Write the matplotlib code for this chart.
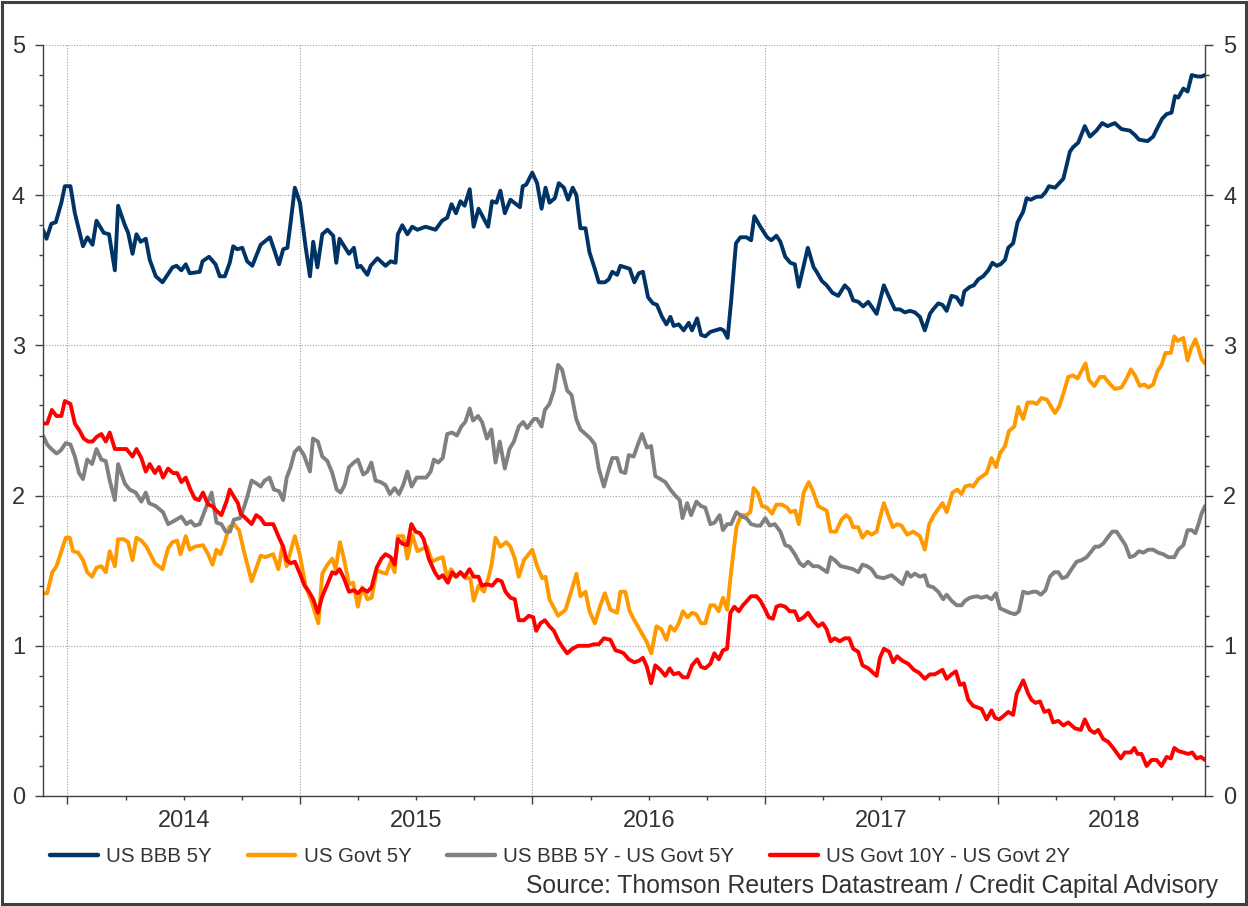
import matplotlib
matplotlib.use("Agg")
import matplotlib.pyplot as plt
from matplotlib.ticker import FixedLocator, FuncFormatter, MultipleLocator
from matplotlib.patches import Rectangle

# time axis in decimal years, values in %
bbb_t = [2013.895, 2013.910, 2013.931, 2013.950, 2013.974, 2013.989, 2014.013, 2014.032, 2014.067, 2014.086,
         2014.108, 2014.125, 2014.156, 2014.179, 2014.204, 2014.218, 2014.247, 2014.261, 2014.280, 2014.297,
         2014.315, 2014.337, 2014.354, 2014.380, 2014.409, 2014.452, 2014.469, 2014.490, 2014.509, 2014.526,
         2014.569, 2014.581, 2014.609, 2014.637, 2014.655, 2014.677, 2014.698, 2014.713, 2014.730, 2014.752,
         2014.773, 2014.795, 2014.831, 2014.871, 2014.910, 2014.928, 2014.946, 2014.960, 2014.978, 2015.000,
         2015.024, 2015.043, 2015.057, 2015.075, 2015.096, 2015.118, 2015.143, 2015.156, 2015.170, 2015.211,
         2015.232, 2015.247, 2015.261, 2015.290, 2015.304, 2015.333, 2015.368, 2015.390, 2015.411, 2015.421,
         2015.440, 2015.462, 2015.483, 2015.505, 2015.540, 2015.583, 2015.611, 2015.633, 2015.652, 2015.671,
         2015.690, 2015.708, 2015.730, 2015.747, 2015.768, 2015.809, 2015.826, 2015.845, 2015.862, 2015.881,
         2015.905, 2015.946, 2015.958, 2015.973, 2015.999, 2016.020, 2016.039, 2016.056, 2016.073, 2016.096,
         2016.113, 2016.135, 2016.153, 2016.173, 2016.189, 2016.206, 2016.228, 2016.245, 2016.268, 2016.285,
         2016.311, 2016.328, 2016.343, 2016.364, 2016.378, 2016.418, 2016.438, 2016.457, 2016.475, 2016.497,
         2016.518, 2016.535, 2016.557, 2016.576, 2016.593, 2016.607, 2016.629, 2016.650, 2016.672, 2016.686,
         2016.708, 2016.725, 2016.743, 2016.765, 2016.808, 2016.822, 2016.839, 2016.854, 2016.875, 2016.894,
         2016.920, 2016.940, 2016.954, 2016.980, 2017.009, 2017.027, 2017.049, 2017.066, 2017.087, 2017.109,
         2017.128, 2017.145, 2017.184, 2017.209, 2017.222, 2017.244, 2017.265, 2017.290, 2017.315, 2017.343,
         2017.362, 2017.379, 2017.401, 2017.422, 2017.444, 2017.480, 2017.511, 2017.537, 2017.558, 2017.580,
         2017.601, 2017.623, 2017.644, 2017.666, 2017.687, 2017.709, 2017.723, 2017.745, 2017.763, 2017.781,
         2017.802, 2017.824, 2017.845, 2017.857, 2017.881, 2017.898, 2017.917, 2017.938, 2017.960, 2017.978,
         2017.996, 2018.013, 2018.032, 2018.046, 2018.067, 2018.086, 2018.110, 2018.125, 2018.143, 2018.168,
         2018.189, 2018.206, 2018.221, 2018.247, 2018.283, 2018.311, 2018.325, 2018.347, 2018.375, 2018.397,
         2018.425, 2018.450, 2018.473, 2018.504, 2018.533, 2018.569, 2018.591, 2018.608, 2018.645, 2018.669,
         2018.688, 2018.708, 2018.727, 2018.748, 2018.763, 2018.777, 2018.799, 2018.817, 2018.835, 2018.860,
         2018.877, 2018.892]
bbb_v = [3.77, 3.71, 3.81, 3.82, 3.95, 4.06, 4.06, 3.88, 3.66, 3.72,
         3.67, 3.83, 3.75, 3.74, 3.50, 3.93, 3.80, 3.75, 3.61, 3.74,
         3.69, 3.71, 3.57, 3.46, 3.42, 3.52, 3.53, 3.50, 3.54, 3.48,
         3.49, 3.56, 3.59, 3.54, 3.46, 3.46, 3.55, 3.66, 3.64, 3.65,
         3.56, 3.53, 3.67, 3.72, 3.54, 3.64, 3.65, 3.82, 4.05, 3.95,
         3.66, 3.46, 3.69, 3.52, 3.74, 3.77, 3.73, 3.55, 3.71, 3.61,
         3.65, 3.52, 3.53, 3.47, 3.53, 3.58, 3.53, 3.56, 3.55, 3.74,
         3.80, 3.74, 3.79, 3.77, 3.79, 3.77, 3.83, 3.85, 3.94, 3.88,
         3.96, 3.93, 4.04, 3.79, 3.91, 3.79, 3.96, 3.95, 4.03, 3.88,
         3.97, 3.92, 4.06, 4.07, 4.15, 4.08, 3.91, 4.05, 3.95, 3.98,
         4.08, 4.05, 3.97, 4.05, 4.00, 3.78, 3.78, 3.62, 3.51, 3.42,
         3.42, 3.44, 3.49, 3.47, 3.53, 3.51, 3.42, 3.48, 3.49, 3.32,
         3.28, 3.27, 3.19, 3.14, 3.19, 3.13, 3.14, 3.10, 3.15, 3.10,
         3.18, 3.07, 3.06, 3.09, 3.11, 3.10, 3.05, 3.29, 3.68, 3.72,
         3.72, 3.70, 3.86, 3.79, 3.72, 3.70, 3.73, 3.69, 3.59, 3.55,
         3.54, 3.39, 3.65, 3.52, 3.49, 3.43, 3.40, 3.35, 3.33, 3.40,
         3.37, 3.30, 3.29, 3.26, 3.29, 3.21, 3.40, 3.31, 3.24, 3.24,
         3.22, 3.23, 3.22, 3.19, 3.10, 3.21, 3.24, 3.28, 3.27, 3.23,
         3.33, 3.32, 3.27, 3.36, 3.39, 3.40, 3.44, 3.46, 3.50, 3.55,
         3.53, 3.54, 3.57, 3.65, 3.68, 3.82, 3.89, 3.98, 3.97, 3.99,
         3.99, 4.02, 4.06, 4.05, 4.11, 4.29, 4.32, 4.35, 4.46, 4.39,
         4.43, 4.48, 4.46, 4.48, 4.44, 4.43, 4.40, 4.37, 4.36, 4.39,
         4.45, 4.51, 4.54, 4.55, 4.66, 4.65, 4.71, 4.69, 4.80, 4.79,
         4.79, 4.80]

govt_t = [2013.895, 2013.913, 2013.935, 2013.953, 2013.974, 2013.993, 2014.010, 2014.024, 2014.046, 2014.067,
          2014.085, 2014.106, 2014.125, 2014.146, 2014.165, 2014.182, 2014.204, 2014.218, 2014.242, 2014.261,
          2014.280, 2014.297, 2014.318, 2014.340, 2014.376, 2014.409, 2014.433, 2014.452, 2014.472, 2014.486,
          2014.509, 2014.526, 2014.548, 2014.583, 2014.605, 2014.624, 2014.641, 2014.658, 2014.677, 2014.695,
          2014.716, 2014.738, 2014.759, 2014.792, 2014.831, 2014.852, 2014.885, 2014.907, 2014.924, 2014.943,
          2014.960, 2014.978, 2015.000, 2015.024, 2015.049, 2015.063, 2015.079, 2015.096, 2015.118, 2015.139,
          2015.153, 2015.172, 2015.189, 2015.211, 2015.229, 2015.249, 2015.268, 2015.290, 2015.308, 2015.330,
          2015.350, 2015.371, 2015.390, 2015.407, 2015.421, 2015.444, 2015.462, 2015.483, 2015.505, 2015.547,
          2015.568, 2015.594, 2015.614, 2015.633, 2015.650, 2015.667, 2015.690, 2015.711, 2015.733, 2015.747,
          2015.768, 2015.791, 2015.812, 2015.824, 2015.841, 2015.862, 2015.887, 2015.905, 2015.924, 2015.941,
          2015.963, 2015.999, 2016.020, 2016.042, 2016.056, 2016.073, 2016.110, 2016.142, 2016.170, 2016.189,
          2016.206, 2016.228, 2016.245, 2016.268, 2016.292, 2016.311, 2016.335, 2016.364, 2016.378, 2016.399,
          2016.418, 2016.438, 2016.464, 2016.490, 2016.511, 2016.533, 2016.554, 2016.576, 2016.593, 2016.611,
          2016.629, 2016.647, 2016.667, 2016.686, 2016.704, 2016.725, 2016.743, 2016.765, 2016.782, 2016.801,
          2016.819, 2016.837, 2016.854, 2016.877, 2016.897, 2016.920, 2016.937, 2016.951, 2016.968, 2016.987,
          2017.009, 2017.030, 2017.049, 2017.073, 2017.095, 2017.109, 2017.130, 2017.145, 2017.166, 2017.188,
          2017.206, 2017.229, 2017.265, 2017.282, 2017.305, 2017.329, 2017.348, 2017.364, 2017.379, 2017.401,
          2017.419, 2017.439, 2017.458, 2017.480, 2017.494, 2017.511, 2017.530, 2017.549, 2017.568, 2017.587,
          2017.611, 2017.637, 2017.666, 2017.687, 2017.706, 2017.726, 2017.749, 2017.763, 2017.781, 2017.806,
          2017.827, 2017.845, 2017.860, 2017.881, 2017.895, 2017.917, 2017.935, 2017.953, 2017.974, 2017.993,
          2018.010, 2018.032, 2018.049, 2018.072, 2018.089, 2018.110, 2018.129, 2018.153, 2018.168, 2018.189,
          2018.211, 2018.247, 2018.264, 2018.283, 2018.304, 2018.325, 2018.344, 2018.378, 2018.393, 2018.416,
          2018.440, 2018.459, 2018.479, 2018.504, 2018.533, 2018.555, 2018.573, 2018.591, 2018.612, 2018.631,
          2018.648, 2018.669, 2018.688, 2018.705, 2018.722, 2018.745, 2018.760, 2018.774, 2018.799, 2018.817,
          2018.832, 2018.851, 2018.866, 2018.877, 2018.892]
govt_v = [1.35, 1.35, 1.49, 1.53, 1.63, 1.72, 1.72, 1.63, 1.62, 1.57,
          1.49, 1.46, 1.52, 1.53, 1.49, 1.63, 1.53, 1.71, 1.71, 1.69,
          1.57, 1.72, 1.70, 1.66, 1.55, 1.51, 1.65, 1.69, 1.70, 1.61,
          1.73, 1.64, 1.66, 1.67, 1.61, 1.54, 1.64, 1.61, 1.69, 1.79,
          1.81, 1.77, 1.63, 1.43, 1.60, 1.59, 1.61, 1.51, 1.66, 1.53,
          1.63, 1.73, 1.60, 1.40, 1.30, 1.23, 1.15, 1.48, 1.54, 1.58,
          1.51, 1.69, 1.58, 1.41, 1.42, 1.26, 1.39, 1.31, 1.32, 1.50,
          1.49, 1.48, 1.56, 1.49, 1.73, 1.73, 1.58, 1.74, 1.63, 1.66,
          1.56, 1.58, 1.59, 1.45, 1.51, 1.46, 1.49, 1.45, 1.45, 1.30,
          1.40, 1.36, 1.46, 1.54, 1.72, 1.66, 1.69, 1.66, 1.58, 1.46,
          1.57, 1.64, 1.53, 1.45, 1.46, 1.31, 1.20, 1.24, 1.38, 1.48,
          1.33, 1.36, 1.23, 1.15, 1.27, 1.35, 1.24, 1.22, 1.36, 1.36,
          1.23, 1.17, 1.10, 1.03, 0.95, 1.13, 1.11, 1.04, 1.13, 1.10,
          1.15, 1.23, 1.19, 1.22, 1.21, 1.15, 1.15, 1.27, 1.27, 1.23,
          1.32, 1.24, 1.49, 1.79, 1.87, 1.87, 1.89, 2.05, 2.02, 1.93,
          1.92, 1.88, 1.94, 1.94, 1.92, 1.89, 1.90, 1.81, 2.02, 2.09,
          2.03, 1.93, 1.90, 1.76, 1.76, 1.84, 1.87, 1.85, 1.79, 1.79,
          1.72, 1.76, 1.74, 1.76, 1.85, 1.95, 1.87, 1.79, 1.81, 1.80,
          1.74, 1.76, 1.73, 1.64, 1.81, 1.87, 1.92, 1.95, 1.89, 2.02,
          2.04, 2.01, 2.06, 2.07, 2.06, 2.11, 2.13, 2.15, 2.25, 2.19,
          2.28, 2.33, 2.43, 2.46, 2.59, 2.51, 2.62, 2.62, 2.61, 2.65,
          2.64, 2.55, 2.59, 2.68, 2.79, 2.80, 2.78, 2.88, 2.77, 2.73,
          2.79, 2.79, 2.75, 2.71, 2.72, 2.78, 2.84, 2.80, 2.73, 2.74,
          2.72, 2.74, 2.83, 2.87, 2.95, 2.95, 3.06, 3.03, 3.05, 2.90,
          2.98, 3.04, 2.97, 2.91, 2.88]

spread_t = [2013.895, 2013.913, 2013.931, 2013.953, 2013.971, 2013.993, 2014.013, 2014.032, 2014.050, 2014.067,
            2014.085, 2014.106, 2014.125, 2014.146, 2014.165, 2014.182, 2014.204, 2014.218, 2014.247, 2014.268,
            2014.294, 2014.318, 2014.337, 2014.351, 2014.380, 2014.411, 2014.433, 2014.457, 2014.490, 2014.512,
            2014.530, 2014.548, 2014.569, 2014.598, 2014.620, 2014.641, 2014.662, 2014.681, 2014.699, 2014.716,
            2014.742, 2014.759, 2014.773, 2014.792, 2014.814, 2014.831, 2014.848, 2014.869, 2014.888, 2014.910,
            2014.928, 2014.943, 2014.960, 2014.977, 2014.996, 2015.017, 2015.043, 2015.056, 2015.077, 2015.096,
            2015.118, 2015.139, 2015.158, 2015.175, 2015.192, 2015.211, 2015.232, 2015.249, 2015.272, 2015.290,
            2015.307, 2015.325, 2015.347, 2015.368, 2015.387, 2015.407, 2015.426, 2015.444, 2015.462, 2015.480,
            2015.502, 2015.543, 2015.562, 2015.576, 2015.594, 2015.614, 2015.633, 2015.654, 2015.675, 2015.694,
            2015.711, 2015.730, 2015.744, 2015.766, 2015.783, 2015.804, 2015.823, 2015.841, 2015.859, 2015.881,
            2015.901, 2015.920, 2015.941, 2015.960, 2015.977, 2016.006, 2016.020, 2016.039, 2016.053, 2016.073,
            2016.092, 2016.110, 2016.127, 2016.149, 2016.168, 2016.188, 2016.206, 2016.228, 2016.249, 2016.268,
            2016.285, 2016.307, 2016.325, 2016.343, 2016.364, 2016.380, 2016.399, 2016.414, 2016.435, 2016.453,
            2016.471, 2016.492, 2016.510, 2016.528, 2016.550, 2016.571, 2016.593, 2016.614, 2016.633, 2016.645,
            2016.665, 2016.682, 2016.705, 2016.725, 2016.743, 2016.765, 2016.783, 2016.805, 2016.819, 2016.837,
            2016.854, 2016.877, 2016.901, 2016.920, 2016.940, 2016.963, 2016.980, 2017.001, 2017.020, 2017.042,
            2017.066, 2017.087, 2017.106, 2017.128, 2017.149, 2017.166, 2017.185, 2017.206, 2017.229, 2017.248,
            2017.267, 2017.282, 2017.300, 2017.325, 2017.356, 2017.379, 2017.401, 2017.419, 2017.439, 2017.458,
            2017.480, 2017.509, 2017.544, 2017.568, 2017.591, 2017.611, 2017.626, 2017.644, 2017.666, 2017.687,
            2017.701, 2017.723, 2017.745, 2017.766, 2017.781, 2017.802, 2017.824, 2017.845, 2017.860, 2017.881,
            2017.910, 2017.931, 2017.953, 2017.974, 2017.993, 2018.010, 2018.039, 2018.053, 2018.075, 2018.092,
            2018.110, 2018.129, 2018.153, 2018.168, 2018.186, 2018.206, 2018.225, 2018.244, 2018.261, 2018.278,
            2018.297, 2018.318, 2018.340, 2018.361, 2018.383, 2018.404, 2018.419, 2018.436, 2018.454, 2018.473,
            2018.493, 2018.512, 2018.533, 2018.550, 2018.569, 2018.588, 2018.608, 2018.627, 2018.648, 2018.669,
            2018.691, 2018.712, 2018.734, 2018.760, 2018.777, 2018.799, 2018.817, 2018.835, 2018.851, 2018.866,
            2018.877, 2018.892]
spread_v = [2.40, 2.34, 2.31, 2.28, 2.30, 2.35, 2.34, 2.26, 2.15, 2.11,
            2.24, 2.21, 2.31, 2.24, 2.23, 2.10, 1.97, 2.21, 2.08, 2.04,
            2.02, 1.96, 2.02, 1.95, 1.93, 1.89, 1.81, 1.83, 1.86, 1.81,
            1.83, 1.80, 1.81, 1.93, 2.02, 1.82, 1.81, 1.76, 1.76, 1.84,
            1.85, 1.92, 1.99, 2.10, 2.08, 2.06, 2.10, 2.12, 2.04, 2.03,
            1.97, 2.12, 2.19, 2.29, 2.32, 2.27, 2.16, 2.38, 2.36, 2.26,
            2.23, 2.15, 2.04, 2.02, 2.07, 2.19, 2.22, 2.24, 2.14, 2.16,
            2.22, 2.10, 2.09, 2.07, 2.01, 2.05, 2.01, 2.07, 2.16, 2.06,
            2.12, 2.12, 2.16, 2.24, 2.22, 2.25, 2.41, 2.42, 2.40, 2.46,
            2.49, 2.58, 2.50, 2.53, 2.49, 2.38, 2.44, 2.22, 2.36, 2.18,
            2.31, 2.36, 2.46, 2.49, 2.45, 2.51, 2.51, 2.46, 2.57, 2.61,
            2.70, 2.87, 2.84, 2.70, 2.67, 2.51, 2.44, 2.41, 2.38, 2.34,
            2.18, 2.06, 2.16, 2.25, 2.25, 2.16, 2.15, 2.27, 2.26, 2.34,
            2.41, 2.32, 2.33, 2.13, 2.11, 2.09, 2.04, 2.00, 1.97, 1.85,
            1.95, 1.87, 1.96, 1.93, 1.92, 1.81, 1.82, 1.87, 1.77, 1.81,
            1.81, 1.89, 1.86, 1.85, 1.81, 1.80, 1.80, 1.85, 1.80, 1.81,
            1.76, 1.67, 1.66, 1.61, 1.55, 1.53, 1.56, 1.53, 1.53, 1.51,
            1.49, 1.59, 1.57, 1.53, 1.52, 1.51, 1.49, 1.54, 1.53, 1.51,
            1.46, 1.45, 1.47, 1.44, 1.41, 1.49, 1.46, 1.48, 1.46, 1.47,
            1.40, 1.39, 1.36, 1.31, 1.34, 1.30, 1.27, 1.27, 1.30, 1.32,
            1.33, 1.32, 1.33, 1.31, 1.35, 1.25, 1.23, 1.22, 1.21, 1.23,
            1.36, 1.35, 1.36, 1.36, 1.34, 1.37, 1.46, 1.49, 1.49, 1.45,
            1.46, 1.51, 1.56, 1.57, 1.59, 1.63, 1.66, 1.66, 1.68, 1.72,
            1.76, 1.76, 1.71, 1.67, 1.59, 1.60, 1.63, 1.62, 1.64, 1.64,
            1.62, 1.61, 1.59, 1.59, 1.64, 1.67, 1.77, 1.77, 1.75, 1.82,
            1.88, 1.93]

curve_t = [2013.895, 2013.913, 2013.933, 2013.953, 2013.974, 2013.989, 2014.013, 2014.032, 2014.053, 2014.070,
           2014.089, 2014.108, 2014.125, 2014.146, 2014.165, 2014.182, 2014.204, 2014.225, 2014.254, 2014.280,
           2014.297, 2014.318, 2014.337, 2014.354, 2014.376, 2014.394, 2014.411, 2014.433, 2014.454, 2014.472,
           2014.490, 2014.509, 2014.529, 2014.548, 2014.566, 2014.583, 2014.605, 2014.624, 2014.641, 2014.662,
           2014.684, 2014.698, 2014.713, 2014.733, 2014.745, 2014.766, 2014.792, 2014.812, 2014.831, 2014.848,
           2014.885, 2014.910, 2014.928, 2014.943, 2014.960, 2014.978, 2015.000, 2015.020, 2015.039, 2015.057,
           2015.077, 2015.096, 2015.118, 2015.139, 2015.153, 2015.170, 2015.189, 2015.211, 2015.232, 2015.249,
           2015.268, 2015.290, 2015.308, 2015.330, 2015.350, 2015.368, 2015.390, 2015.407, 2015.421, 2015.440,
           2015.462, 2015.479, 2015.497, 2015.516, 2015.532, 2015.554, 2015.580, 2015.597, 2015.614, 2015.636,
           2015.655, 2015.672, 2015.690, 2015.708, 2015.729, 2015.747, 2015.768, 2015.782, 2015.804, 2015.827,
           2015.848, 2015.867, 2015.884, 2015.905, 2015.924, 2015.941, 2015.963, 2015.984, 2016.003, 2016.016,
           2016.034, 2016.053, 2016.073, 2016.092, 2016.113, 2016.130, 2016.149, 2016.171, 2016.196, 2016.221,
           2016.242, 2016.264, 2016.285, 2016.307, 2016.335, 2016.357, 2016.378, 2016.392, 2016.414, 2016.438,
           2016.457, 2016.475, 2016.492, 2016.510, 2016.528, 2016.550, 2016.571, 2016.590, 2016.607, 2016.629,
           2016.647, 2016.667, 2016.686, 2016.708, 2016.725, 2016.743, 2016.765, 2016.782, 2016.801, 2016.819,
           2016.837, 2016.851, 2016.868, 2016.887, 2016.905, 2016.923, 2016.940, 2016.963, 2016.980, 2017.001,
           2017.016, 2017.034, 2017.049, 2017.066, 2017.087, 2017.106, 2017.128, 2017.145, 2017.166, 2017.185,
           2017.206, 2017.229, 2017.248, 2017.265, 2017.282, 2017.300, 2017.321, 2017.343, 2017.362, 2017.379,
           2017.401, 2017.419, 2017.444, 2017.465, 2017.480, 2017.494, 2017.511, 2017.534, 2017.551, 2017.568,
           2017.591, 2017.616, 2017.640, 2017.663, 2017.687, 2017.709, 2017.730, 2017.763, 2017.781, 2017.802,
           2017.821, 2017.838, 2017.855, 2017.874, 2017.895, 2017.931, 2017.953, 2017.974, 2017.989, 2018.007,
           2018.024, 2018.046, 2018.067, 2018.082, 2018.110, 2018.132, 2018.146, 2018.163, 2018.182, 2018.201,
           2018.221, 2018.239, 2018.261, 2018.283, 2018.304, 2018.333, 2018.358, 2018.375, 2018.397, 2018.416,
           2018.433, 2018.454, 2018.476, 2018.497, 2018.530, 2018.547, 2018.573, 2018.588, 2018.602, 2018.619,
           2018.641, 2018.662, 2018.684, 2018.705, 2018.727, 2018.745, 2018.760, 2018.777, 2018.799, 2018.820,
           2018.837, 2018.856, 2018.874, 2018.892]
curve_v = [2.48, 2.48, 2.57, 2.53, 2.53, 2.63, 2.61, 2.48, 2.43, 2.38,
           2.36, 2.36, 2.39, 2.41, 2.36, 2.42, 2.31, 2.31, 2.31, 2.26,
           2.31, 2.25, 2.16, 2.21, 2.15, 2.19, 2.12, 2.18, 2.15, 2.15,
           2.09, 2.12, 2.04, 1.98, 1.97, 2.02, 1.94, 1.93, 1.90, 1.87,
           1.96, 2.04, 2.00, 1.95, 1.88, 1.85, 1.81, 1.87, 1.85, 1.81,
           1.81, 1.72, 1.66, 1.57, 1.55, 1.56, 1.48, 1.40, 1.36, 1.31,
           1.22, 1.33, 1.41, 1.49, 1.48, 1.51, 1.45, 1.36, 1.37, 1.35,
           1.38, 1.36, 1.39, 1.52, 1.58, 1.61, 1.59, 1.54, 1.71, 1.68,
           1.67, 1.81, 1.76, 1.75, 1.71, 1.58, 1.49, 1.45, 1.47, 1.42,
           1.49, 1.46, 1.49, 1.46, 1.51, 1.46, 1.46, 1.40, 1.41, 1.40,
           1.44, 1.43, 1.36, 1.32, 1.31, 1.17, 1.17, 1.20, 1.19, 1.10,
           1.15, 1.17, 1.13, 1.10, 1.03, 0.99, 0.95, 0.98, 1.00, 1.00,
           1.00, 1.01, 1.01, 1.05, 1.04, 0.97, 0.96, 0.95, 0.91, 0.89,
           0.90, 0.92, 0.86, 0.75, 0.87, 0.84, 0.80, 0.85, 0.81, 0.82,
           0.79, 0.79, 0.87, 0.91, 0.86, 0.85, 0.88, 0.95, 0.91, 0.97,
           0.98, 1.22, 1.26, 1.23, 1.27, 1.30, 1.33, 1.33, 1.30, 1.24,
           1.19, 1.18, 1.26, 1.27, 1.26, 1.23, 1.23, 1.17, 1.19, 1.22,
           1.17, 1.13, 1.15, 1.11, 1.03, 1.05, 1.03, 1.05, 1.05, 0.98,
           0.96, 0.87, 0.85, 0.82, 0.80, 0.92, 0.98, 0.96, 0.89, 0.93,
           0.90, 0.88, 0.84, 0.82, 0.78, 0.81, 0.81, 0.84, 0.78, 0.81,
           0.83, 0.74, 0.75, 0.64, 0.60, 0.58, 0.51, 0.57, 0.52, 0.51,
           0.53, 0.56, 0.54, 0.68, 0.77, 0.68, 0.64, 0.62, 0.63, 0.56,
           0.57, 0.49, 0.50, 0.47, 0.49, 0.45, 0.44, 0.51, 0.44, 0.42,
           0.44, 0.38, 0.36, 0.32, 0.25, 0.29, 0.29, 0.32, 0.28, 0.28,
           0.20, 0.24, 0.24, 0.20, 0.26, 0.25, 0.32, 0.30, 0.29, 0.28,
           0.29, 0.25, 0.26, 0.24]

series_labels = ["US BBB 5Y", "US Govt 5Y", "US BBB 5Y - US Govt 5Y", "US Govt 10Y - US Govt 2Y"]
series_colors = ["#003366", "#FF9900", "#808080", "#FF0000"]
years = [2014, 2015, 2016, 2017, 2018]
source = "Source: Thomson Reuters Datastream / Credit Capital Advisory"

plt.rcParams['font.family'] = ['Liberation Sans', 'DejaVu Sans']
txt = '#333333'
axc = '#404040'

fig = plt.figure(figsize=(12.48, 9.06), dpi=100)
ax = fig.add_axes([43 / 1248, 1 - 796 / 906, 1162 / 1248, 751 / 906])

data = [(bbb_t, bbb_v), (govt_t, govt_v), (spread_t, spread_v), (curve_t, curve_v)]
for (t, v), lab, col in zip(data, series_labels, series_colors):
    ax.plot(t, v, color=col, lw=2.8, label=lab, solid_joinstyle='round', solid_capstyle='round')

ax.set_xlim(bbb_t[0], bbb_t[-1])
ax.set_ylim(0, 5)

# y axis: labels both sides
ax.yaxis.set_major_locator(MultipleLocator(1))
ax.yaxis.set_minor_locator(MultipleLocator(0.2))
ax.yaxis.set_ticks_position('both')
ax.tick_params(axis='y', which='major', direction='out', length=6, width=1, color=axc,
               labelsize=17, labelcolor=txt, pad=7, labelleft=True, labelright=True)
ax.tick_params(axis='y', which='minor', direction='out', length=3, width=1, color=axc)

# x axis: year boundaries major, quarters minor, year labels mid-year
ax.xaxis.set_major_locator(FixedLocator(years))
ax.xaxis.set_major_formatter(FuncFormatter(lambda x, p: ''))
quarters = [y + q / 4 for y in [2013] + years for q in range(1, 4)]
quarters = [q for q in quarters if bbb_t[0] < q < bbb_t[-1]]
ax.xaxis.set_minor_locator(FixedLocator(quarters))
ax.xaxis.set_minor_formatter(FuncFormatter(lambda x, p: str(int(x)) if abs(x % 1 - 0.5) < 1e-6 else ''))
ax.tick_params(axis='x', which='major', direction='out', length=6, width=1, color=axc)
ax.tick_params(axis='x', which='minor', direction='out', length=3, width=1, color=axc,
               labelsize=17, labelcolor=txt, pad=7)

for s in ['left', 'right', 'bottom']:
    ax.spines[s].set_color(axc)
    ax.spines[s].set_linewidth(1)
ax.spines['top'].set_visible(False)

ax.grid(True, which='major', color='#a0a0a0', lw=0.8, ls=(0, (1, 1.5)))
ax.set_axisbelow(True)

fig.legend(loc='center left', bbox_to_anchor=(50 / 1248, 1 - 857 / 906), ncol=4, frameon=False,
           fontsize=14.7, handlelength=2.35, handletextpad=0.4, columnspacing=1.75,
           borderpad=0, borderaxespad=0, labelcolor=txt)
for h in fig.legends[0].get_lines():
    h.set_linewidth(3.2)

fig.text(1218 / 1248, 1 - 886 / 906, source, ha='right', va='center', fontsize=17.8, color=txt)

fig.patches.append(Rectangle((2 / 1248, 2 / 906), 1 - 4 / 1248, 1 - 4 / 906, transform=fig.transFigure,
                             fill=False, ec=axc, lw=2.2))

fig.savefig("out.png", dpi=100)
